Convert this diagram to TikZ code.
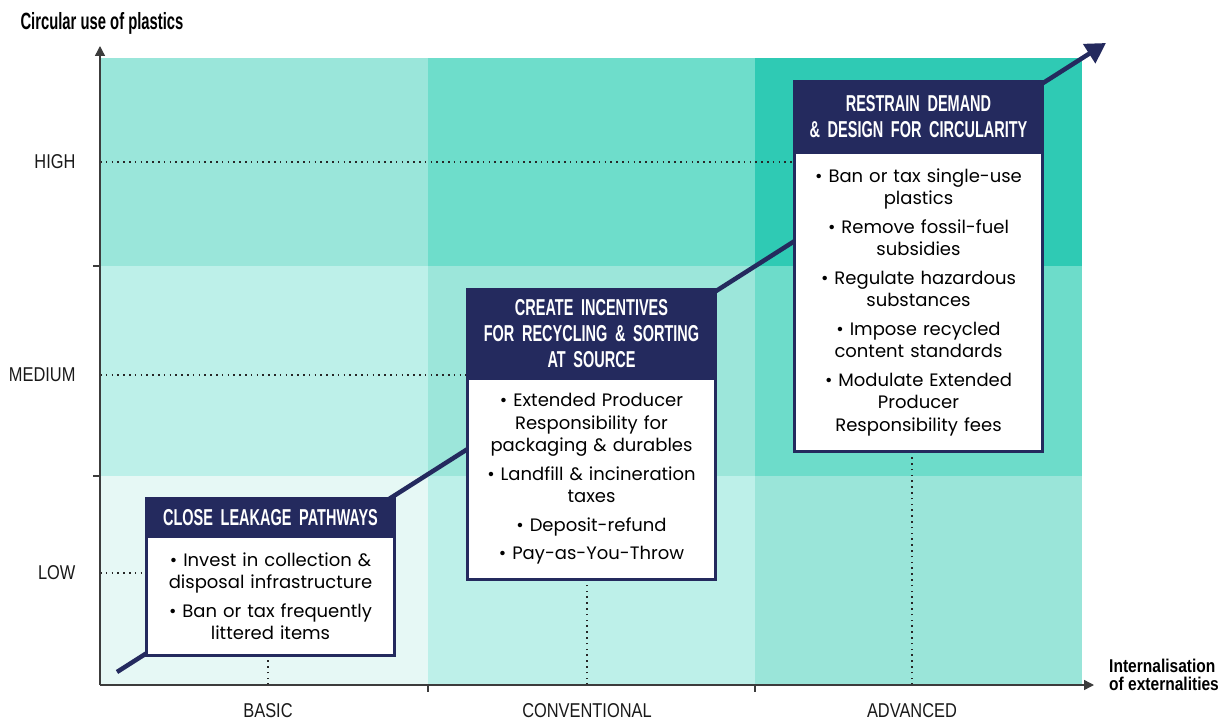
\documentclass[tikz,border=0pt]{standalone}
\usepackage{fontspec}
\setmainfont{Poppins}
\newfontfamily\headfont{Liberation Sans}[FakeStretch=0.63]
\newfontfamily\labelfont{Liberation Sans}[FakeStretch=0.84]
\newfontfamily\axisfont{Liberation Sans}[FakeStretch=0.82]
\usetikzlibrary{arrows.meta, positioning, backgrounds}

\definecolor{navy}{HTML}{242A5E}
\definecolor{axisgray}{HTML}{3C3C3C}
\definecolor{hiL}{HTML}{9AE6DA}
\definecolor{hiM}{HTML}{6EDDCB}
\definecolor{hiR}{HTML}{2FCAB4}
\definecolor{meL}{HTML}{BDF0E9}
\definecolor{meM}{HTML}{9CE6DA}
\definecolor{meR}{HTML}{6DDCCA}
\definecolor{loL}{HTML}{E6F8F5}
\definecolor{loM}{HTML}{BDF0E9}
\definecolor{loR}{HTML}{9AE5D9}

\begin{document}
\begin{tikzpicture}[x=1pt, y=-1pt,
    header/.style={fill=navy, draw=navy, line width=3pt, outer sep=0pt, text=white,
                   font=\headfont\bfseries\fontsize{23}{26}\selectfont, align=center,
                   minimum width=248pt, text width=236pt, inner sep=6pt},
    policy/.style={fill=white, draw=navy, line width=3pt, outer sep=0pt,
                   font=\fontsize{18}{22.5}\selectfont, align=center,
                   minimum width=248pt, text width=240pt, inner sep=4pt},
    level/.style={font=\axisfont\fontsize{20}{22}\selectfont, text=black!90},
    guide/.style={line width=1.6pt, dash pattern=on 1.6pt off 4.2pt, black!85},
    axis arrow/.style={-{Triangle[length=10pt,width=10pt]}, line width=1.4pt, axisgray},
    trend arrow/.style={-{Triangle[length=20pt,width=22pt]}, line width=4.5pt, navy}]
  \useasboundingbox (0,0) rectangle (1218,722);

  \coordinate (o) at (100,685);
  \coordinate (ytip) at (100,46);
  \coordinate (xtip) at (1094,685);
  \coordinate (tstart) at (117,672);
  \coordinate (ttip) at (1106,43);

  \node[font=\headfont\bfseries\fontsize{23.5}{25}\selectfont, anchor=base west] (ytitle) at (17,30) {Circular use of plastics};
  \node[font=\labelfont\bfseries\fontsize{18.5}{17.5}\selectfont, anchor=west, align=left, inner sep=1pt] (xtitle) at (1108,675) {Internalisation\\of externalities};

  \node[level, anchor=east] (high) at (79,162) {HIGH};
  \node[level, anchor=east] (medium) at (79,375) {MEDIUM};
  \node[level, anchor=east] (low) at (79,573) {LOW};
  \node[level] (basic) at (268,711) {BASIC};
  \node[level] (conventional) at (587,711) {CONVENTIONAL};
  \node[level] (advanced) at (912,711) {ADVANCED};

  % boxes
  \node[header, minimum height=38pt, anchor=north west] (hdr1) at (146.5,498.5) {CLOSE LEAKAGE PATHWAYS};
  \node[policy, minimum height=119pt, below=0pt of hdr1] (box1) {%
    \textbullet\ Invest in collection \&\\disposal infrastructure\\[6pt]
    \textbullet\ Ban or tax frequently\\littered items};

  \node[header, minimum height=89pt, anchor=north west] (hdr2) at (467.5,289.5) {CREATE INCENTIVES\\FOR RECYCLING \& SORTING\\AT SOURCE};
  \node[policy, minimum height=201pt, below=0pt of hdr2] (box2) {%
    \textbullet\ Extended Producer\\Responsibility for\\packaging \& durables\\[6pt]
    \textbullet\ Landfill \& incineration\\taxes\\[6pt]
    \textbullet\ Deposit-refund\\[6pt]
    \textbullet\ Pay-as-You-Throw};

  \node[header, minimum height=71pt, anchor=north west] (hdr3) at (794.5,81.5) {RESTRAIN DEMAND\\\& DESIGN FOR CIRCULARITY};
  \node[policy, minimum height=299pt, below=0pt of hdr3] (box3) {%
    \textbullet\ Ban or tax single-use\\plastics\\[6pt]
    \textbullet\ Remove fossil-fuel\\subsidies\\[6pt]
    \textbullet\ Regulate hazardous\\substances\\[6pt]
    \textbullet\ Impose recycled\\content standards\\[6pt]
    \textbullet\ Modulate Extended\\Producer\\Responsibility fees};

  \begin{pgfonlayer}{background}
    % background cells
    \foreach \xa/\xb/\ya/\yb/\c in {100/428/58/266/hiL, 428/755/58/266/hiM, 755/1082/58/266/hiR,
                                    100/428/266/476/meL, 428/755/266/476/meM, 755/1082/266/476/meR,
                                    100/428/476/685/loL, 428/755/476/685/loM, 755/1082/476/685/loR}
      \fill[\c] (\xa,\ya) rectangle (\xb,\yb);

    % guides
    \draw[guide] (o |- high) -- (box3.west |- high);
    \draw[guide] (o |- medium) -- (box2.west |- medium);
    \draw[guide] (o |- low) -- (box1.west |- low);
    \draw[guide] (basic |- o) -- (basic |- box1.south);
    \draw[guide] (conventional |- o) -- (conventional |- box2.south);
    \draw[guide] (advanced |- o) -- (advanced |- box3.south);

    % axes and ticks
    \foreach \t in {266,476}
      \draw[axisgray, line width=1.2pt] (93,\t) -- (100,\t);
    \foreach \t in {428,755}
      \draw[axisgray, line width=1.2pt] (\t,685) -- (\t,692);
    \draw[axis arrow] (o) -- (ytip);
    \draw[axis arrow] (o) -- (xtip);

    \draw[trend arrow] (tstart) -- (ttip);
  \end{pgfonlayer}
\end{tikzpicture}
\end{document}
